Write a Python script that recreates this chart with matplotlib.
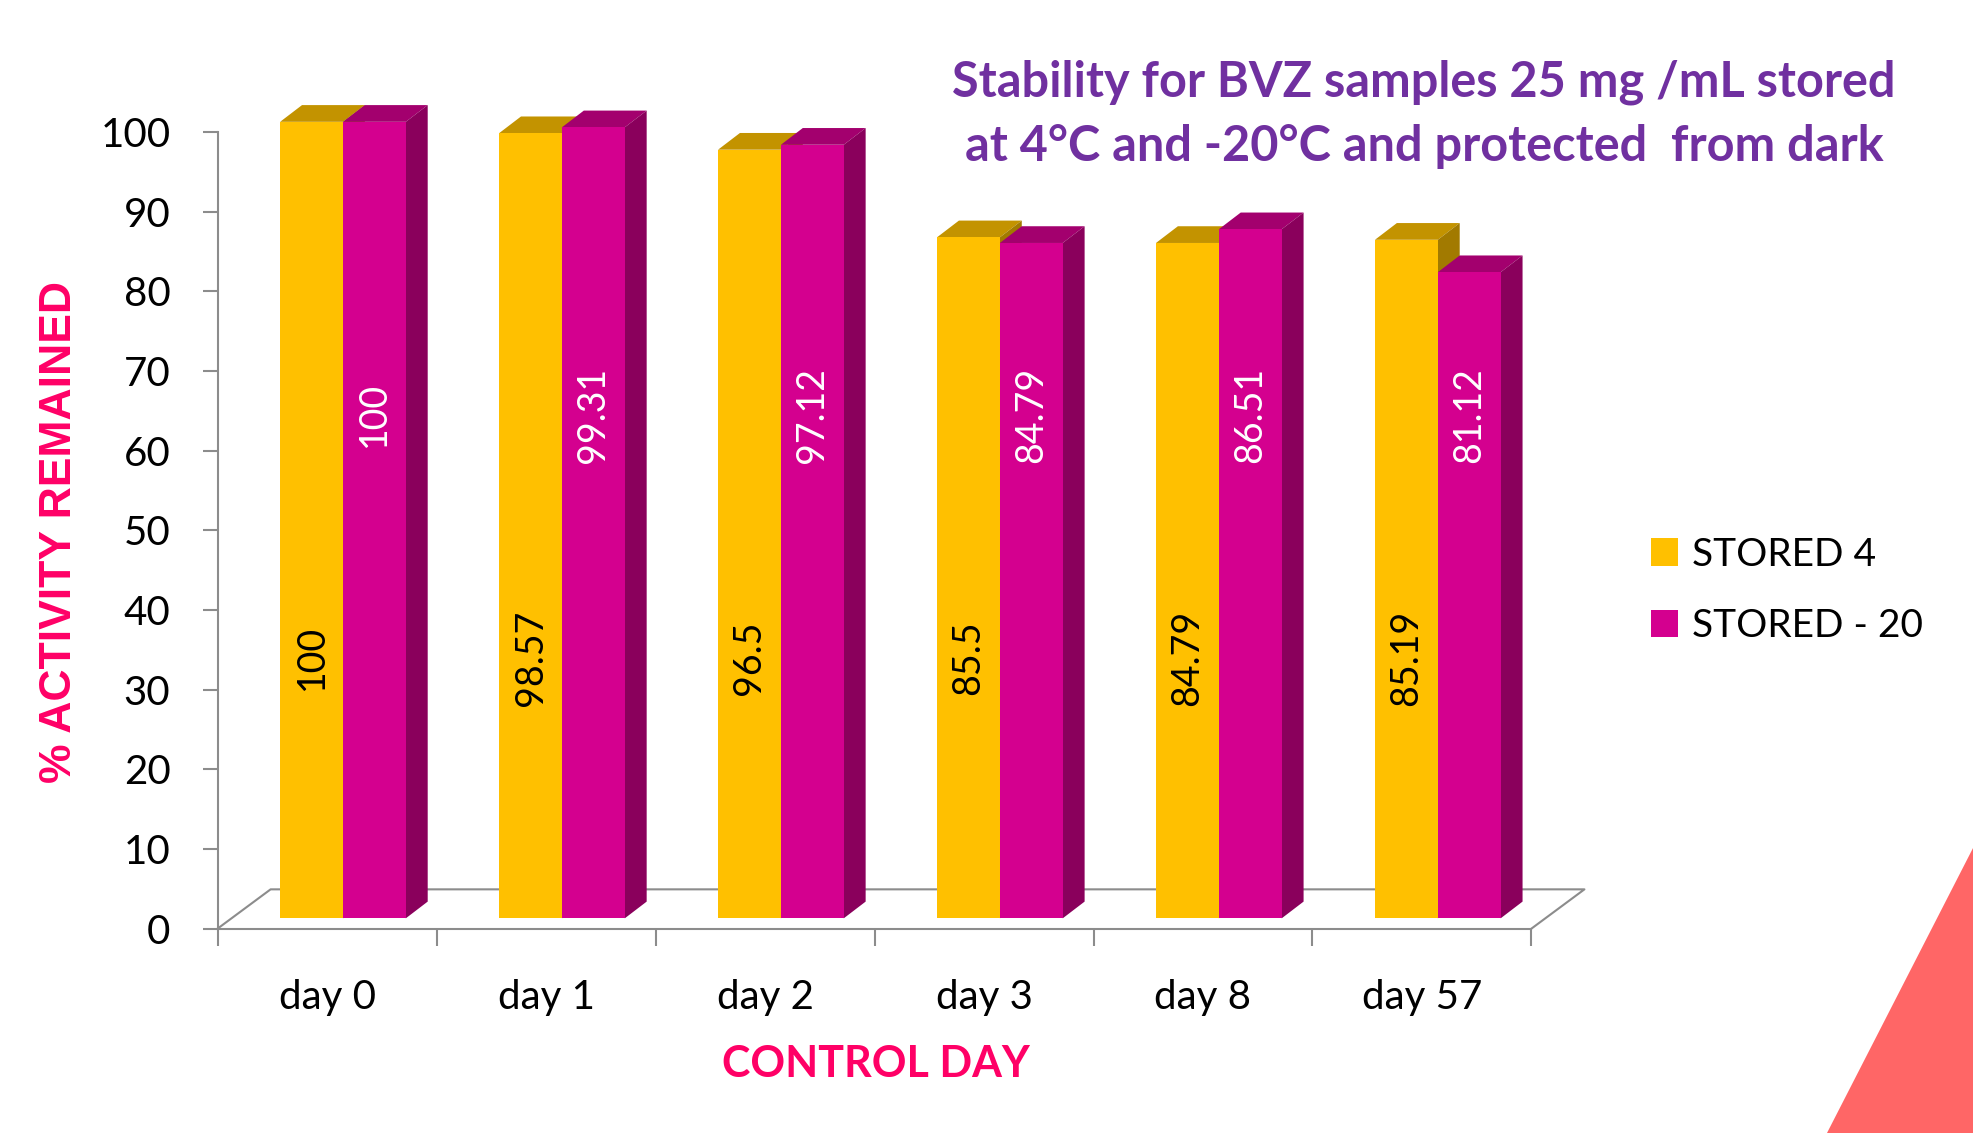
import matplotlib
matplotlib.use("Agg")
import matplotlib.pyplot as plt
from matplotlib.patches import Polygon, Patch

days = ["day 0", "day 1", "day 2", "day 3", "day 8", "day 57"]
stored_4 = [100, 98.57, 96.5, 85.5, 84.79, 85.19]
stored_20 = [100, 99.31, 97.12, 84.79, 86.51, 81.12]
series_names = ["STORED 4", "STORED - 20"]

front_cols = ["#FFC000", "#D4008F"]
top_cols = ["#C39300", "#A3006E"]
side_cols = ["#A27A00", "#8A005C"]
label_cols = ["black", "white"]
label_y = [34, 64.5]

plt.rcParams["font.family"] = ["Lato", "DejaVu Sans"]

fig = plt.figure(figsize=(19.73, 11.33), dpi=100)
ax = fig.add_axes([0.1103, 0.1804, 0.6659, 0.7030])
ax.set_xlim(0, len(days))
ax.set_ylim(0, 100)

gray = "#8C8C8C"
floor_dx, floor_dy = 0.242, 4.93   # depth of floor in data units
f0 = 0.262                          # where bar fronts sit within the depth
ox, oy = f0 * floor_dx, f0 * floor_dy
sdx, sdy = 0.10, 2.1                # bar depth
bw = 0.287
left = 0.222

n = len(days)
# floor outline
ax.plot([0, floor_dx, n + floor_dx, n], [0, floor_dy, floor_dy, 0],
        color=gray, lw=1.5, clip_on=False, zorder=1)

for i in range(n):
    for j, vals in enumerate([stored_4, stored_20]):
        v = vals[i]
        x0 = i + left + j * bw + ox
        y0 = oy
        yt = v + oy
        top = [(x0, yt), (x0 + bw, yt), (x0 + bw + sdx, yt + sdy), (x0 + sdx, yt + sdy)]
        side = [(x0 + bw, y0), (x0 + bw, yt), (x0 + bw + sdx, yt + sdy), (x0 + bw + sdx, y0 + sdy)]
        front = [(x0, y0), (x0 + bw, y0), (x0 + bw, yt), (x0, yt)]
        z = 3 + i * 3 + j * 1.5
        ax.add_patch(Polygon(top, closed=True, fc=top_cols[j], ec="none", clip_on=False, zorder=z))
        ax.add_patch(Polygon(side, closed=True, fc=side_cols[j], ec="none", clip_on=False, zorder=z))
        ax.add_patch(Polygon(front, closed=True, fc=front_cols[j], ec="none", clip_on=False, zorder=z + 0.5))
        ax.text(x0 + bw / 2, label_y[j], f"{v:g}", rotation=90, ha="center", va="center",
                fontsize=27, color=label_cols[j], zorder=20)

for s in ["top", "right"]:
    ax.spines[s].set_visible(False)
for s in ["left", "bottom"]:
    ax.spines[s].set_color(gray)
    ax.spines[s].set_linewidth(1.5)

ax.set_yticks(range(0, 101, 10))
ax.tick_params(axis="y", direction="out", length=11, width=1.5, color=gray,
               labelsize=29, pad=23)
ax.set_xticks(range(n + 1))
ax.set_xticklabels([])
ax.set_xticks([i + 0.5 for i in range(n)], minor=True)
ax.set_xticklabels(days, minor=True)
ax.tick_params(axis="x", which="major", direction="out", length=12, width=1.5, color=gray)
ax.tick_params(axis="x", which="minor", length=0, labelsize=29, pad=36)

fig.text(0.7218, 0.899, "Stability for BVZ samples 25 mg /mL stored\nat 4°C and -20°C and protected  from dark",
         ha="center", va="center", fontsize=35, fontweight="bold", color="#7030A0", linespacing=1.5)

fig.text(0.0304, 0.5305, "% ACTIVITY REMAINED", rotation=90, ha="center", va="center",
         fontsize=32, fontweight="bold", color="#FF0066", family="Liberation Sans")
fig.text(0.444, 0.0605, "CONTROL DAY", ha="center", va="center",
         fontsize=31, fontweight="bold", color="#FF0066")

handles = [Patch(fc=front_cols[k], ec="none") for k in range(2)]
fig.legend(handles, series_names, loc="center left", bbox_to_anchor=(0.819, 0.479),
           frameon=False, fontsize=28, handlelength=0.7, handleheight=0.7,
           handletextpad=0.35, labelspacing=0.91)

fig.patches.append(Polygon([(1.0, 0.2515), (0.926, 0.0), (1.0, 0.0)], closed=True,
                           fc="#FF6666", ec="none", transform=fig.transFigure, figure=fig))

fig.savefig("out.png", dpi=100, facecolor="white")
